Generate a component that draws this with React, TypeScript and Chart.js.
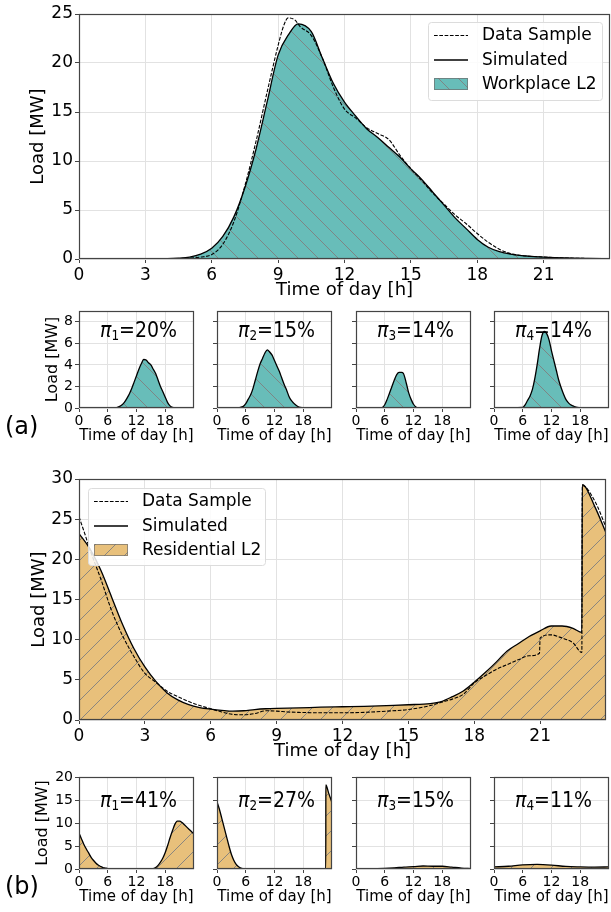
import React, { useEffect, useRef } from 'react';
import { Chart, registerables } from 'chart.js';

Chart.register(...registerables);
Chart.defaults.font.family = "'DejaVu Sans', sans-serif";

// ---------------- Data ----------------
// Tick labels
const mainHourTicks = [0, 3, 6, 9, 12, 15, 18, 21];
const smallHourTicks = [0, 6, 12, 18];
const workMainLoadTicks = [0, 5, 10, 15, 20, 25];
const resMainLoadTicks = [0, 5, 10, 15, 20, 25, 30];
const workSmallLoadTicks = [0, 2, 4, 6, 8];
const resSmallLoadTicks = [0, 5, 10, 15, 20];

// (a) Workplace L2 — main
const workSimHours = [0, 2, 4, 4.5, 5, 5.5, 6, 6.5, 7, 7.5, 8, 8.5, 9, 9.5, 9.9, 10.5, 11, 11.5, 12, 12.5, 13, 13.5, 14, 14.5, 15, 15.5, 16, 16.5, 17, 17.5, 18, 18.5, 19, 19.5, 20, 21, 22, 23, 24];
const workSimLoad = [0, 0, 0.03, 0.08, 0.2, 0.5, 1.1, 2.3, 4.3, 7.3, 11.2, 16.0, 20.8, 23.0, 24.0, 23.2, 20.5, 17.9, 16.0, 14.6, 13.3, 12.4, 11.4, 10.4, 9.2, 8.1, 6.8, 5.5, 4.2, 3.1, 2.0, 1.2, 0.75, 0.5, 0.35, 0.2, 0.1, 0.05, 0.02];
const workDataHours = [0, 4, 5, 5.5, 6, 6.5, 7, 7.5, 8, 8.5, 9, 9.25, 9.45, 9.75, 10, 10.5, 11, 11.5, 12, 12.5, 13, 13.5, 14, 14.5, 15, 15.5, 16, 16.5, 17, 17.5, 18, 18.5, 19, 19.5, 20, 21, 22, 23, 24];
const workDataLoad = [0, 0.02, 0.1, 0.2, 0.45, 1.5, 3.8, 7.5, 12.0, 17.0, 21.8, 23.8, 24.6, 24.4, 23.7, 22.8, 20.5, 17.5, 15.3, 14.4, 13.4, 12.8, 12.2, 10.6, 9.2, 8.0, 6.7, 5.6, 4.5, 3.6, 2.6, 1.7, 1.0, 0.55, 0.35, 0.2, 0.1, 0.05, 0];

// (a) Workplace clusters
const work1Hours = [0, 7.5, 8, 8.5, 9, 9.5, 10, 10.5, 11, 11.5, 12, 12.5, 13, 13.5, 14, 14.5, 15, 15.5, 16, 16.5, 17, 17.5, 18, 18.5, 19, 19.5, 20, 24];
const work1Load = [0, 0, 0.05, 0.15, 0.3, 0.55, 0.9, 1.3, 1.8, 2.4, 3.0, 3.6, 4.1, 4.5, 4.45, 4.2, 4.0, 3.6, 3.2, 2.6, 2.0, 1.5, 1.0, 0.5, 0.2, 0.05, 0, 0];
const work2Hours = [0, 4, 4.5, 5, 5.5, 6, 6.5, 7, 7.5, 8, 8.5, 9, 9.5, 10, 10.5, 11, 11.5, 12, 12.5, 13, 13.5, 14, 14.5, 15, 15.5, 16, 16.5, 17, 17.5, 18, 24];
const work2Load = [0, 0, 0.02, 0.08, 0.15, 0.4, 0.8, 1.2, 1.8, 2.6, 3.4, 4.1, 4.6, 5.1, 5.4, 5.2, 4.9, 4.4, 3.9, 3.4, 2.8, 2.2, 1.7, 1.1, 0.7, 0.45, 0.25, 0.1, 0.05, 0, 0];
const work3Hours = [0, 5, 5.5, 6, 6.5, 7, 7.5, 8, 8.5, 9, 9.5, 9.9, 10.5, 11, 11.5, 12, 12.5, 13, 24];
const work3Load = [0, 0, 0.05, 0.3, 0.8, 1.4, 2.0, 2.6, 3.1, 3.3, 3.3, 3.2, 2.3, 1.4, 0.8, 0.35, 0.1, 0, 0];
const work4Hours = [0, 6, 6.5, 7, 7.5, 8, 8.5, 9, 9.5, 10, 10.5, 11, 11.5, 12, 12.5, 13, 13.5, 14, 14.5, 15, 15.5, 16, 16.5, 17, 17.5, 18, 24];
const work4Load = [0, 0.05, 0.3, 0.7, 1.1, 1.7, 2.7, 4.0, 5.5, 6.7, 7.1, 6.9, 6.3, 5.3, 4.4, 3.5, 2.6, 1.9, 1.3, 0.8, 0.5, 0.3, 0.2, 0.1, 0.05, 0, 0];
const workShares = ['20%', '15%', '14%', '14%'];

// (b) Residential L2 — main
const resSimHours = [0, 0.5, 1, 1.5, 2, 2.5, 3, 3.5, 4, 4.5, 5, 5.5, 6, 6.5, 7, 7.5, 8, 8.5, 9, 10, 11, 12, 13, 14, 15, 16, 16.5, 17, 17.5, 18, 18.5, 19, 19.5, 20, 20.5, 21, 21.5, 22, 22.5, 22.9, 22.92, 23.5, 24];
const resSimLoad = [23.2, 21.3, 18.6, 15.2, 11.8, 8.9, 6.6, 4.8, 3.4, 2.5, 1.9, 1.55, 1.35, 1.2, 1.1, 1.15, 1.3, 1.4, 1.45, 1.5, 1.6, 1.65, 1.7, 1.8, 1.9, 2.05, 2.3, 2.9, 3.6, 4.7, 5.9, 7.2, 8.6, 9.5, 10.4, 11.1, 11.7, 11.7, 11.4, 10.9, 29.3, 26.5, 23.3];
const resDataHours = [0, 0.25, 0.5, 1, 1.5, 2, 2.5, 3, 3.5, 4, 4.5, 5, 5.5, 6, 6.5, 7, 7.5, 8, 8.5, 9, 9.5, 10, 11, 12, 13, 14, 15, 16, 16.5, 17, 17.5, 18, 18.5, 19, 19.5, 20, 20.5, 20.97, 21, 21.5, 22, 22.5, 22.9, 22.92, 23.5, 24];
const resDataLoad = [25.3, 23.3, 21.2, 17.5, 13.5, 10.4, 7.9, 5.8, 4.7, 3.6, 2.9, 2.3, 1.8, 1.4, 1.0, 0.7, 0.65, 0.8, 1.15, 1.1, 1.0, 0.95, 0.9, 0.9, 0.95, 1.1, 1.3, 1.8, 2.2, 2.6, 3.2, 4.6, 5.5, 6.3, 6.9, 7.5, 8.0, 8.3, 10.2, 10.6, 10.2, 9.6, 8.4, 29.2, 27.2, 24.0];

// (b) Residential clusters
const res1Hours = [0, 0.5, 1, 1.5, 2, 2.5, 3, 3.5, 4, 4.5, 5, 5.5, 6, 7, 15, 15.5, 16, 16.5, 17, 17.5, 18, 18.5, 19, 19.5, 20, 20.5, 21, 21.5, 22, 22.5, 23, 23.5, 24];
const res1Load = [7.8, 6.6, 5.4, 4.4, 3.5, 2.6, 1.9, 1.3, 0.85, 0.55, 0.3, 0.2, 0.1, 0.05, 0.05, 0.1, 0.3, 0.8, 1.5, 2.4, 3.6, 5.1, 6.8, 8.3, 9.7, 10.4, 10.4, 10.1, 9.6, 9.1, 8.6, 8.1, 7.6];
const res2Hours = [0, 0.5, 1, 1.5, 2, 2.5, 3, 3.5, 4, 4.5, 5, 5.5, 6, 22.7, 22.72, 23.3, 24];
const res2Load = [14.6, 13.0, 11.0, 9.0, 7.0, 5.0, 3.2, 1.9, 1.0, 0.5, 0.2, 0.08, 0, 0, 18.3, 16.5, 14.4];
const res3Hours = [0, 3, 6, 8, 10, 12, 14, 16, 18, 20, 22, 24];
const res3Load = [0.1, 0.1, 0.15, 0.25, 0.4, 0.5, 0.65, 0.6, 0.6, 0.4, 0.2, 0.1];
const res4Hours = [0, 3, 6, 9, 12, 15, 18, 21, 24];
const res4Load = [0.45, 0.6, 0.9, 1.0, 0.85, 0.55, 0.45, 0.4, 0.45];
const resShares = ['41%', '27%', '15%', '11%'];

// ---------------- Styling helpers ----------------
const TEAL = 'rgb(104,189,185)';
const SAND = 'rgb(232,192,123)';
const FONT = "'DejaVu Sans', sans-serif";

function hatch(color: string, forward: boolean): CanvasPattern {
  const s = 20;
  const c = document.createElement('canvas');
  c.width = s;
  c.height = s;
  const g = c.getContext('2d')!;
  g.fillStyle = color;
  g.fillRect(0, 0, s, s);
  g.strokeStyle = 'rgba(128,128,128,0.9)';
  g.lineWidth = 1;
  g.beginPath();
  if (forward) {
    g.moveTo(-1, s + 1); g.lineTo(s + 1, -1);
    g.moveTo(-1, 1); g.lineTo(1, -1);
    g.moveTo(s - 1, s + 1); g.lineTo(s + 1, s - 1);
  } else {
    g.moveTo(-1, -1); g.lineTo(s + 1, s + 1);
    g.moveTo(s - 1, -1); g.lineTo(s + 1, 1);
    g.moveTo(-1, s - 1); g.lineTo(1, s + 1);
  }
  g.stroke();
  return g.createPattern(c, 'repeat')!;
}

const pts = (h: number[], v: number[]) => h.map((x, i) => ({ x, y: v[i] }));

const framePlugin = {
  id: 'frame',
  afterDatasetsDraw(chart: any) {
    const { ctx, chartArea: a } = chart;
    ctx.save();
    ctx.strokeStyle = '#444';
    ctx.lineWidth = 1.2;
    ctx.strokeRect(Math.round(a.left) + 0.5, Math.round(a.top) + 0.5, Math.round(a.right - a.left) - 1, Math.round(a.bottom - a.top) - 1);
    ctx.restore();
  },
};

type Row = { kind: 'dash' | 'line' | 'patch'; label: string };
type LegendSpec = { alignRight: boolean; dx: number; dy: number; w: number; h: number; rows: Row[] };

function legendPlugin(spec: LegendSpec, fill: CanvasPattern) {
  return {
    id: 'boxLegend',
    afterDraw(chart: any) {
      const { ctx, chartArea: a } = chart;
      const x = Math.round(spec.alignRight ? a.right - spec.dx - spec.w : a.left + spec.dx);
      const y = Math.round(a.top + spec.dy);
      ctx.save();
      ctx.fillStyle = 'rgba(255,255,255,0.85)';
      ctx.strokeStyle = '#dcdcdc';
      ctx.lineWidth = 1;
      ctx.beginPath();
      ctx.roundRect(x + 0.5, y + 0.5, spec.w, spec.h, 3);
      ctx.fill();
      ctx.stroke();
      spec.rows.forEach((r, i) => {
        const cy = y + 13 + i * 24.5;
        if (r.kind === 'patch') {
          ctx.fillStyle = fill;
          ctx.fillRect(x + 6, cy - 6, 34, 12);
          ctx.strokeStyle = 'rgba(110,110,110,0.7)';
          ctx.lineWidth = 1;
          ctx.strokeRect(x + 6.5, cy - 5.5, 33, 11);
        } else {
          ctx.strokeStyle = '#000';
          ctx.lineWidth = r.kind === 'dash' ? 1.1 : 1.3;
          ctx.setLineDash(r.kind === 'dash' ? [3.7, 1.6] : []);
          ctx.beginPath();
          ctx.moveTo(x + 6, cy + 0.5);
          ctx.lineTo(x + 40, cy + 0.5);
          ctx.stroke();
          ctx.setLineDash([]);
        }
        ctx.fillStyle = '#000';
        ctx.font = `17px ${FONT}`;
        ctx.textBaseline = 'middle';
        ctx.textAlign = 'left';
        ctx.fillText(r.label, x + 54, cy + 1);
      });
      ctx.restore();
    },
  };
}

function piPlugin(idx: string, share: string, offset: number) {
  return {
    id: 'piLabel',
    afterDraw(chart: any) {
      const { ctx, chartArea: a } = chart;
      const sx = 0.86;
      ctx.save();
      const big = `22px ${FONT}`;
      const ital = `italic 22px ${FONT}`;
      const small = `14px ${FONT}`;
      const tail = '=' + share;
      ctx.font = ital;
      const w1 = ctx.measureText('π').width;
      ctx.font = small;
      const w2 = ctx.measureText(idx).width;
      ctx.font = big;
      const w3 = ctx.measureText(tail).width;
      const total = (w1 + w2 + w3) * sx;
      const x0 = (a.left + a.right) / 2 + 2 - total / 2;
      const base = a.top + offset;
      ctx.translate(x0, base);
      ctx.scale(sx, 1);
      ctx.fillStyle = '#000';
      ctx.textBaseline = 'alphabetic';
      ctx.textAlign = 'left';
      let x = 0;
      ctx.font = ital;
      ctx.fillText('π', x, 0);
      x += w1;
      ctx.font = small;
      ctx.fillText(idx, x, 3);
      x += w2;
      ctx.font = big;
      ctx.fillText(tail, x, 0);
      ctx.restore();
    },
  };
}

type Series = { hours: number[]; load: number[]; dashed: boolean };
type PanelSpec = {
  left: number; top: number; width: number; height: number;
  yAxisWidth: number; xAxisHeight: number; padTop: number; padRight: number;
  yMax: number; xTicks: number[]; yTicks: number[];
  tickSize: number; titleSize: number; yTitleSize: number; showYLabels: boolean;
  yTitlePad: number; xTitlePad: number; xTickPad: number;
  series: Series[]; residential: boolean;
  legend?: LegendSpec; pi?: { idx: string; share: string; offset: number };
};

function Panel({ spec }: { spec: PanelSpec }) {
  const ref = useRef<HTMLCanvasElement>(null);
  useEffect(() => {
    const fill = hatch(spec.residential ? SAND : TEAL, spec.residential);
    const datasets = spec.series.map((s) => ({
      data: pts(s.hours, s.load),
      borderColor: '#000',
      borderWidth: s.dashed ? 1.1 : 1.3,
      borderDash: s.dashed ? [3.7, 1.6] : [],
      backgroundColor: s.dashed ? 'transparent' : fill,
      fill: s.dashed ? false : 'origin',
      pointRadius: 0,
      cubicInterpolationMode: 'monotone',
      order: s.dashed ? 0 : 1,
    }));
    const plugins: any[] = [framePlugin];
    if (spec.legend) plugins.push(legendPlugin(spec.legend, fill));
    if (spec.pi) plugins.push(piPlugin(spec.pi.idx, spec.pi.share, spec.pi.offset));
    const gridCommon = { color: '#e2e2e2', lineWidth: 1, tickLength: 4, tickColor: '#444', tickWidth: 1, drawTicks: true };
    const chart = new Chart(ref.current!, {
      type: 'line',
      data: { datasets } as any,
      options: {
        responsive: false,
        animation: false,
        devicePixelRatio: 1,
        layout: { padding: { top: spec.padTop, right: spec.padRight, left: 0, bottom: 0 } },
        plugins: { legend: { display: false }, tooltip: { enabled: false } },
        elements: { point: { radius: 0 } },
        scales: {
          x: {
            type: 'linear',
            min: 0,
            max: 24,
            afterFit: (s: any) => { s.height = spec.xAxisHeight; },
            afterBuildTicks: (s: any) => { s.ticks = spec.xTicks.map((v) => ({ value: v })); },
            ticks: { color: '#000', font: { size: spec.tickSize }, padding: spec.xTickPad, maxRotation: 0, autoSkip: false, callback: (v: any) => String(v) },
            grid: gridCommon,
            border: { display: false },
            title: { display: true, text: 'Time of day [h]', color: '#000', font: { size: spec.titleSize }, padding: { top: 0, bottom: spec.xTitlePad } },
          },
          y: {
            type: 'linear',
            min: 0,
            max: spec.yMax,
            afterFit: (s: any) => { s.width = spec.yAxisWidth; },
            afterBuildTicks: (s: any) => { s.ticks = spec.yTicks.map((v) => ({ value: v })); },
            ticks: { color: spec.showYLabels ? '#000' : 'rgba(0,0,0,0)', font: { size: spec.tickSize }, padding: 2, autoSkip: false, callback: (v: any) => String(v) },
            grid: gridCommon,
            border: { display: false },
            title: { display: spec.showYLabels, text: 'Load [MW]', color: '#000', font: { size: spec.yTitleSize }, padding: { top: spec.yTitlePad, bottom: 0 } },
          },
        },
      } as any,
      plugins,
    });
    return () => chart.destroy();
  }, []);
  return (
    <canvas
      ref={ref}
      width={spec.width}
      height={spec.height}
      style={{ position: 'absolute', left: spec.left, top: spec.top, width: spec.width, height: spec.height }}
    />
  );
}

// ---------------- Layout ----------------
const mainA: PanelSpec = {
  left: 0, top: 0, width: 611, height: 305,
  yAxisWidth: 79, xAxisHeight: 46, padTop: 14, padRight: 1,
  yMax: 25, xTicks: mainHourTicks, yTicks: workMainLoadTicks,
  tickSize: 17, titleSize: 18, yTitleSize: 18, showYLabels: true, yTitlePad: 28, xTitlePad: 3.5, xTickPad: 2,
  series: [
    { hours: workDataHours, load: workDataLoad, dashed: true },
    { hours: workSimHours, load: workSimLoad, dashed: false },
  ],
  residential: false,
  legend: {
    alignRight: true, dx: 8, dy: 8, w: 174, h: 78,
    rows: [
      { kind: 'dash', label: 'Data Sample' },
      { kind: 'line', label: 'Simulated' },
      { kind: 'patch', label: 'Workplace L2' },
    ],
  },
};

const mainB: PanelSpec = {
  left: 0, top: 460, width: 611, height: 305,
  yAxisWidth: 79, xAxisHeight: 45, padTop: 19, padRight: 5,
  yMax: 30, xTicks: mainHourTicks, yTicks: resMainLoadTicks,
  tickSize: 17, titleSize: 18, yTitleSize: 18, showYLabels: true, yTitlePad: 29, xTitlePad: 2.5, xTickPad: 2,
  series: [
    { hours: resDataHours, load: resDataLoad, dashed: true },
    { hours: resSimHours, load: resSimLoad, dashed: false },
  ],
  residential: true,
  legend: {
    alignRight: false, dx: 9, dy: 9, w: 177, h: 77,
    rows: [
      { kind: 'dash', label: 'Data Sample' },
      { kind: 'line', label: 'Simulated' },
      { kind: 'patch', label: 'Residential L2' },
    ],
  },
};

const smallLefts = [79, 217, 356, 494];
const workSeries = [[work1Hours, work1Load], [work2Hours, work2Load], [work3Hours, work3Load], [work4Hours, work4Load]];
const resSeries = [[res1Hours, res1Load], [res2Hours, res2Load], [res3Hours, res3Load], [res4Hours, res4Load]];

function smallSpec(i: number, residential: boolean): PanelSpec {
  const first = i === 0;
  const yAxisWidth = first ? 79 : 20;
  const plotLeft = smallLefts[i];
  const [h, v] = residential ? resSeries[i] : workSeries[i];
  return {
    left: plotLeft - yAxisWidth,
    top: residential ? 765 : 300,
    width: yAxisWidth + 115 + 6,
    height: residential ? 144 : 148,
    yAxisWidth, xAxisHeight: 40, padTop: residential ? 12 : 11, padRight: 6,
    yMax: residential ? 20 : 9,
    xTicks: smallHourTicks,
    yTicks: residential ? resSmallLoadTicks : workSmallLoadTicks,
    tickSize: 14, titleSize: 15, yTitleSize: 16, showYLabels: first,
    yTitlePad: residential ? 33.5 : 43.5, xTitlePad: 2.5, xTickPad: 1,
    series: [{ hours: h, load: v, dashed: false }],
    residential,
    pi: { idx: String(i + 1), share: residential ? resShares[i] : workShares[i], offset: residential ? 30 : 26 },
  };
}

const panels: PanelSpec[] = [
  mainA,
  ...[0, 1, 2, 3].map((i) => smallSpec(i, false)),
  mainB,
  ...[0, 1, 2, 3].map((i) => smallSpec(i, true)),
];

export default function App() {
  return (
    <div
      style={{
        position: 'absolute', left: 0, top: 0, width: 611, height: 912,
        overflow: 'hidden', background: '#fff', fontFamily: FONT,
      }}
    >
      {panels.map((p, i) => (
        <Panel key={i} spec={p} />
      ))}
      <div style={{ position: 'absolute', left: 5, top: 412, fontSize: 24, lineHeight: '28px', color: '#000' }}>(a)</div>
      <div style={{ position: 'absolute', left: 5, top: 872, fontSize: 24, lineHeight: '28px', color: '#000' }}>(b)</div>
    </div>
  );
}
